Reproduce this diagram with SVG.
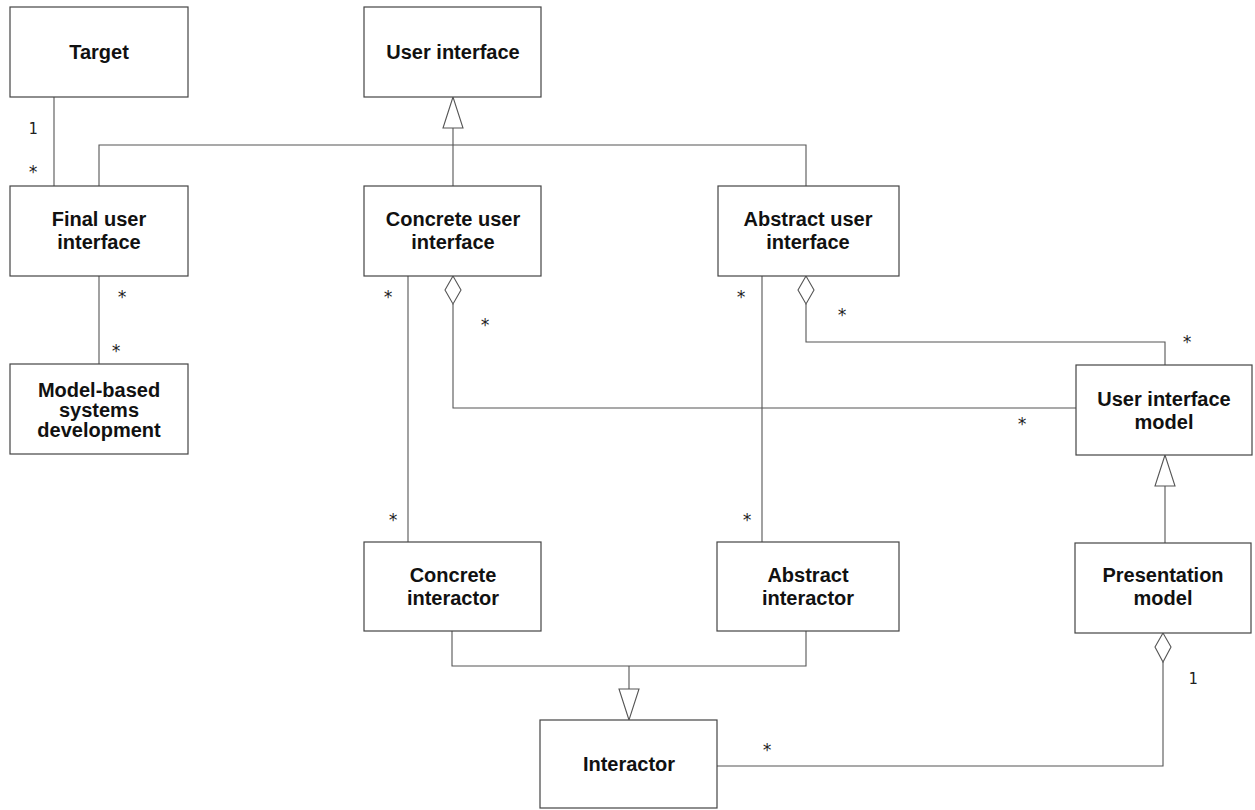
<svg xmlns="http://www.w3.org/2000/svg" width="1255" height="810" viewBox="0 0 1255 810">
  <style>
    .box { fill: #fff; stroke: #444; stroke-width: 1.2; }
    .lbl { font-family: "Liberation Sans", Arial, sans-serif; font-weight: bold; font-size: 20px; fill: #111; text-anchor: middle; }
    .mult { font-family: "DejaVu Sans Mono", "Liberation Mono", monospace; font-size: 15px; fill: #222; text-anchor: middle; }
    .star { font-family: "DejaVu Sans Mono", "Liberation Mono", monospace; font-size: 17px; fill: #222; text-anchor: middle; }
    .edge { fill: none; stroke: #555; stroke-width: 1.1; }
    .head { fill: #fff; stroke: #555; stroke-width: 1.1; }
  </style>
  <rect width="1255" height="810" fill="#fff"/>

  <!-- connectors -->
  <g id="connectors">
    <!-- Target (1) to Final user interface (*) -->
    <path class="edge" d="M54 97 V186"/>
    <!-- Final UI (*) to Model-based systems development (*) -->
    <path class="edge" d="M99 276 V364"/>
    <!-- generalisation to User interface -->
    <path class="edge" d="M99 186 V145 H806 V186"/>
    <path class="edge" d="M453 128 V186"/>
    <polygon class="head" points="453,97 443,128 463,128"/>
    <!-- Concrete UI (*) to Concrete interactor (*) -->
    <path class="edge" d="M408 276 V542"/>
    <!-- Concrete UI aggregates UI model -->
    <path class="edge" d="M453 304 V408 H1076"/>
    <polygon class="head" points="453,276 445,290 453,304 461,290"/>
    <!-- Abstract UI (*) to Abstract interactor (*) -->
    <path class="edge" d="M762 276 V542"/>
    <!-- Abstract UI aggregates UI model -->
    <path class="edge" d="M806 304 V342 H1165 V365"/>
    <polygon class="head" points="806,276 798,290 806,304 814,290"/>
    <!-- Presentation model generalises UI model -->
    <path class="edge" d="M1165 486 V543"/>
    <polygon class="head" points="1165,455 1155,486 1175,486"/>
    <!-- interactors generalise Interactor -->
    <path class="edge" d="M452 631 V666 H806 V631"/>
    <path class="edge" d="M629 666 V689"/>
    <polygon class="head" points="629,720 619,689 639,689"/>
    <!-- Presentation model aggregates Interactor -->
    <path class="edge" d="M1163 662 V766 H717"/>
    <polygon class="head" points="1163,633 1155,647 1163,662 1171,647"/>
  </g>

  <!-- multiplicities -->
  <g id="multiplicities">
    <text class="mult" x="33" y="134">1</text>
    <text class="star" x="33" y="178">*</text>
    <text class="star" x="122" y="303">*</text>
    <text class="star" x="116" y="357">*</text>
    <text class="star" x="388" y="303">*</text>
    <text class="star" x="485" y="331">*</text>
    <text class="star" x="741" y="303">*</text>
    <text class="star" x="842" y="321">*</text>
    <text class="star" x="1187" y="348">*</text>
    <text class="star" x="1022" y="430">*</text>
    <text class="star" x="393" y="526">*</text>
    <text class="star" x="747" y="526">*</text>
    <text class="star" x="767" y="756">*</text>
    <text class="mult" x="1193" y="684">1</text>
  </g>

  <!-- nodes -->
  <g id="target">
    <rect class="box" x="10" y="7" width="178" height="90"/>
    <text class="lbl" x="99" y="59">Target</text>
  </g>
  <g id="user-interface">
    <rect class="box" x="364" y="7" width="177" height="90"/>
    <text class="lbl" x="453" y="59">User interface</text>
  </g>
  <g id="final-user-interface">
    <rect class="box" x="10" y="186" width="178" height="90"/>
    <text class="lbl" x="99" y="226">Final user</text>
    <text class="lbl" x="99" y="249">interface</text>
  </g>
  <g id="concrete-user-interface">
    <rect class="box" x="364" y="186" width="177" height="90"/>
    <text class="lbl" x="453" y="226">Concrete user</text>
    <text class="lbl" x="453" y="249">interface</text>
  </g>
  <g id="abstract-user-interface">
    <rect class="box" x="718" y="186" width="181" height="90"/>
    <text class="lbl" x="808" y="226">Abstract user</text>
    <text class="lbl" x="808" y="249">interface</text>
  </g>
  <g id="model-based-systems-development">
    <rect class="box" x="10" y="364" width="178" height="90"/>
    <text class="lbl" x="99" y="397">Model-based</text>
    <text class="lbl" x="99" y="417">systems</text>
    <text class="lbl" x="99" y="437">development</text>
  </g>
  <g id="user-interface-model">
    <rect class="box" x="1076" y="365" width="176" height="90"/>
    <text class="lbl" x="1164" y="406">User interface</text>
    <text class="lbl" x="1164" y="429">model</text>
  </g>
  <g id="concrete-interactor">
    <rect class="box" x="364" y="542" width="177" height="89"/>
    <text class="lbl" x="453" y="582">Concrete</text>
    <text class="lbl" x="453" y="605">interactor</text>
  </g>
  <g id="abstract-interactor">
    <rect class="box" x="717" y="542" width="182" height="89"/>
    <text class="lbl" x="808" y="582">Abstract</text>
    <text class="lbl" x="808" y="605">interactor</text>
  </g>
  <g id="presentation-model">
    <rect class="box" x="1075" y="543" width="176" height="90"/>
    <text class="lbl" x="1163" y="582">Presentation</text>
    <text class="lbl" x="1163" y="605">model</text>
  </g>
  <g id="interactor">
    <rect class="box" x="540" y="720" width="177" height="88"/>
    <text class="lbl" x="629" y="771">Interactor</text>
  </g>
</svg>
